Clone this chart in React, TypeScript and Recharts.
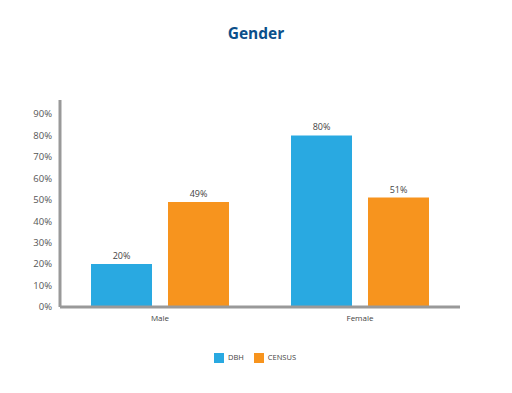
import { Bar, BarChart, LabelList, Legend, XAxis, YAxis } from "recharts";

const BLUE = "#29a9e1";
const ORANGE = "#f7941e";
const FONT = "'Open Sans', sans-serif";

const categories = ["Male", "Female"];
const dbh = [20, 80];
const census = [49, 51];
const yTicks = [0, 10, 20, 30, 40, 50, 60, 70, 80, 90];

const data = categories.map((name, i) => ({ name, dbh: dbh[i], census: census[i] }));

const pct = (v: any) => `${v}%`;

export default function App() {
  return (
    <div style={{ position: "absolute", left: 0, top: 0, width: 512, height: 393, background: "#fff", fontFamily: FONT }}>
      <div
        style={{
          position: "absolute",
          top: 22,
          width: 512,
          textAlign: "center",
          fontSize: 15.5,
          fontWeight: 700,
          color: "#0b4f8a",
          zIndex: 2,
        }}
      >
        Gender
      </div>
      <BarChart
        width={512}
        height={393}
        data={data}
        margin={{ top: 100, right: 52, left: 0, bottom: 56 }}
        barGap={16}
        barCategoryGap={31}
        style={{ fontFamily: FONT }}
      >
        <XAxis
          dataKey="name"
          height={30}
          axisLine={{ stroke: "#999", strokeWidth: 3 }}
          tickLine={false}
          tick={{ fontSize: 8, fill: "#444" }}
        />
        <YAxis
          width={60}
          domain={[0, 96.5]}
          ticks={yTicks}
          interval={0}
          tickFormatter={pct}
          axisLine={{ stroke: "#999", strokeWidth: 3 }}
          tickLine={false}
          tick={{ fontSize: 9.5, fill: "#555" }}
        />
        <Legend
          verticalAlign="middle"
          align="center"
          layout="horizontal"
          iconType="square"
          iconSize={10}
          itemSorter={(item: any) => (item.dataKey === "dbh" ? 0 : 1)}
          wrapperStyle={{ top: 352, left: 4, width: 512, fontSize: 7.5, color: "#444" }}
          formatter={(v) => <span style={{ color: "#444" }}>{v}</span>}
        />
        <Bar dataKey="dbh" name="DBH" fill={BLUE} isAnimationActive={false}>
          <LabelList dataKey="dbh" position="top" formatter={pct} style={{ fontSize: 9, fill: "#444" }} />
        </Bar>
        <Bar dataKey="census" name="CENSUS" fill={ORANGE} isAnimationActive={false}>
          <LabelList dataKey="census" position="top" formatter={pct} style={{ fontSize: 9, fill: "#444" }} />
        </Bar>
      </BarChart>
    </div>
  );
}
